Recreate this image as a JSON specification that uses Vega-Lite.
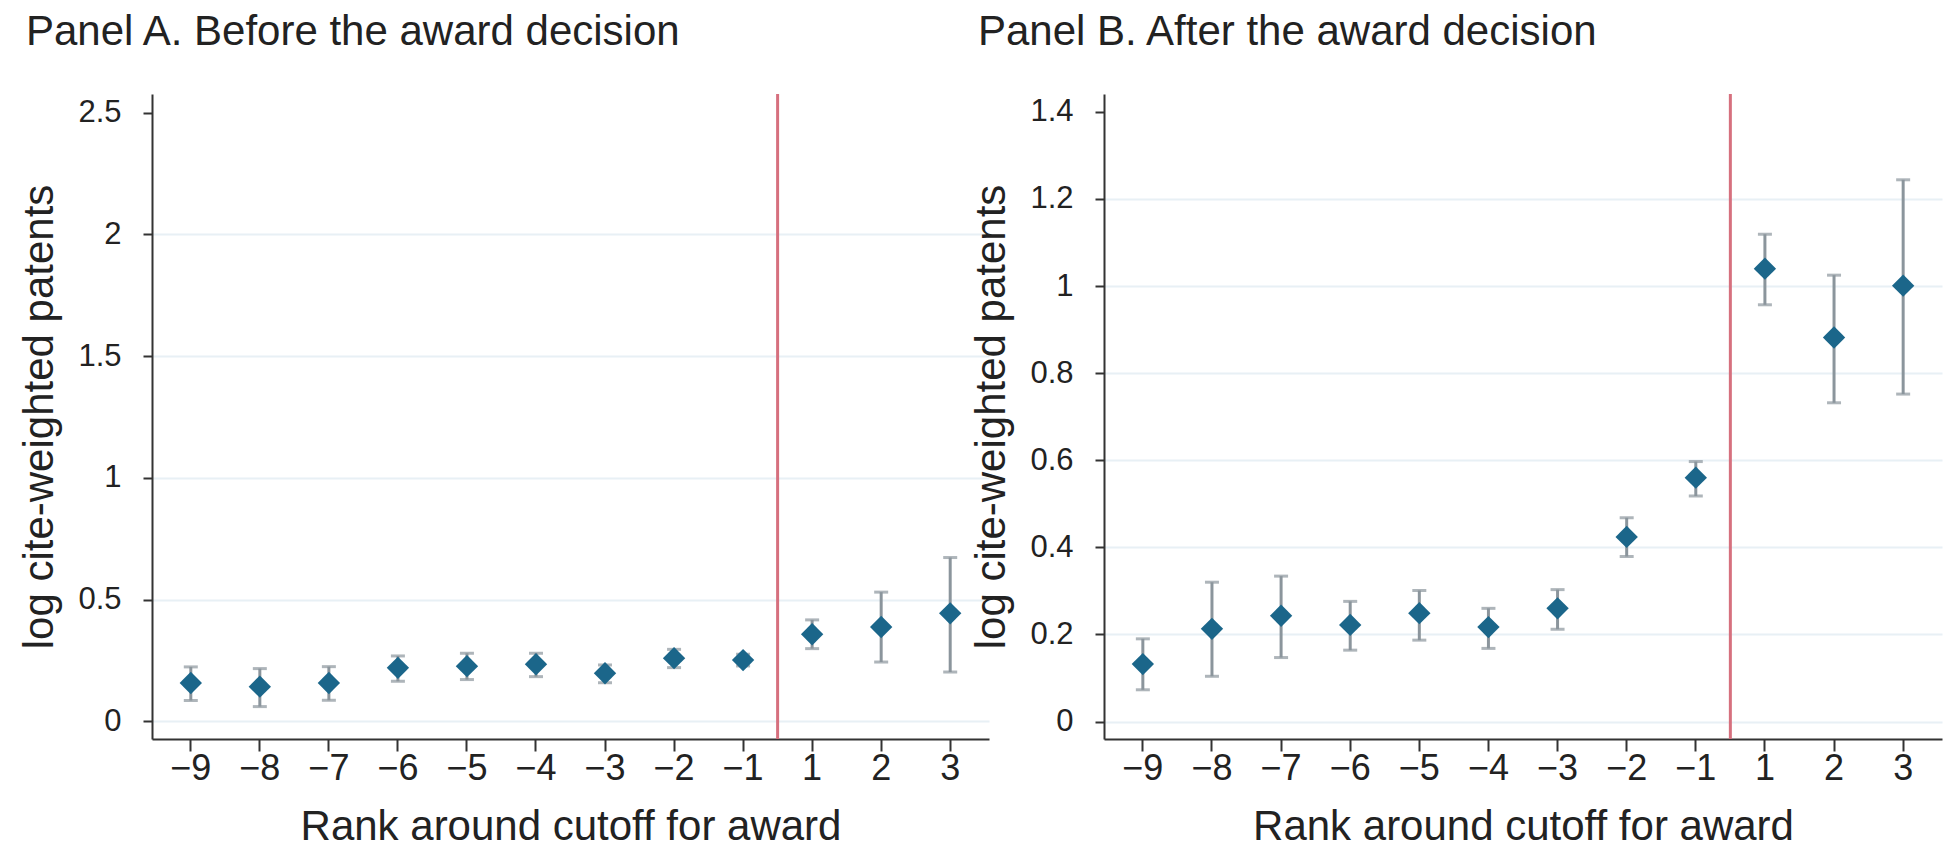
{
  "$schema": "https://vega.github.io/schema/vega-lite/v6.json",
  "background": "white",
  "padding": {"left": 18, "top": 10, "right": 5, "bottom": 0},
  "bounds": "flush",
  "spacing": 115,
  "datasets": {
    "A": [
      {"rank": -9, "est": 0.158, "lo": 0.086, "hi": 0.224},
      {"rank": -8, "est": 0.143, "lo": 0.061, "hi": 0.217},
      {"rank": -7, "est": 0.158, "lo": 0.087, "hi": 0.225},
      {"rank": -6, "est": 0.220, "lo": 0.165, "hi": 0.269},
      {"rank": -5, "est": 0.227, "lo": 0.172, "hi": 0.280},
      {"rank": -4, "est": 0.235, "lo": 0.184, "hi": 0.280},
      {"rank": -3, "est": 0.198, "lo": 0.159, "hi": 0.232},
      {"rank": -2, "est": 0.260, "lo": 0.221, "hi": 0.296},
      {"rank": -1, "est": 0.252, "lo": 0.228, "hi": 0.276},
      {"rank": 1, "est": 0.358, "lo": 0.299, "hi": 0.417},
      {"rank": 2, "est": 0.388, "lo": 0.244, "hi": 0.531},
      {"rank": 3, "est": 0.444, "lo": 0.203, "hi": 0.673}
    ],
    "B": [
      {"rank": -9, "est": 0.132, "lo": 0.073, "hi": 0.190},
      {"rank": -8, "est": 0.213, "lo": 0.104, "hi": 0.320},
      {"rank": -7, "est": 0.243, "lo": 0.147, "hi": 0.334},
      {"rank": -6, "est": 0.222, "lo": 0.164, "hi": 0.276},
      {"rank": -5, "est": 0.249, "lo": 0.187, "hi": 0.301},
      {"rank": -4, "est": 0.217, "lo": 0.168, "hi": 0.260},
      {"rank": -3, "est": 0.260, "lo": 0.212, "hi": 0.303},
      {"rank": -2, "est": 0.424, "lo": 0.379, "hi": 0.468},
      {"rank": -1, "est": 0.560, "lo": 0.518, "hi": 0.597},
      {"rank": 1, "est": 1.040, "lo": 0.957, "hi": 1.119},
      {"rank": 2, "est": 0.882, "lo": 0.732, "hi": 1.025},
      {"rank": 3, "est": 1.001, "lo": 0.752, "hi": 1.244}
    ],
    "cut": [{"rank": 1}]
  },
  "config": {
    "view": {"stroke": null},
    "font": "Liberation Sans",
    "axis": {
      "domainColor": "#333333", "domainWidth": 2,
      "tickColor": "#333333", "tickWidth": 2,
      "labelFont": "Liberation Sans", "labelColor": "#222222",
      "titleFont": "Liberation Sans", "titleFontSize": 42, "titleFontWeight": "normal", "titleColor": "#222222",
      "gridColor": "#e8f0f5", "gridWidth": 2
    },
    "axisX": {"tickSize": 12, "labelFontSize": 36, "labelPadding": 0, "titlePadding": 20, "grid": false, "labelAngle": 0},
    "axisY": {"tickSize": 9, "labelFontSize": 31, "labelPadding": 22, "titlePadding": 16},
    "title": {"font": "Liberation Sans", "fontSize": 42, "fontWeight": "normal", "color": "#222222", "anchor": "start", "frame": "bounds", "baseline": "alphabetic", "offset": 39, "dx": 7}
  },
  "hconcat": [
    {
      "width": 837, "height": 645,
      "title": {"text": "Panel A. Before the award decision"},
      "layer": [
        {
          "data": {"name": "cut"},
          "mark": {"type": "rule", "color": "#d6707e", "strokeWidth": 3},
          "encoding": {
            "x": {"field": "rank", "type": "ordinal", "bandPosition": 0,
                  "scale": {"type": "band", "domain": [-9,-8,-7,-6,-5,-4,-3,-2,-1,1,2,3], "paddingInner": 0, "paddingOuter": 0.062}}
          }
        },
        {
          "data": {"name": "A"},
          "mark": {"type": "errorbar", "orient": "vertical", "color": "#8b959c", "thickness": 3, "ticks": {"size": 14, "thickness": 3, "color": "#8b959c"}},
          "encoding": {
            "x": {"field": "rank", "type": "ordinal",
                  "scale": {"type": "band", "domain": [-9,-8,-7,-6,-5,-4,-3,-2,-1,1,2,3], "paddingInner": 0, "paddingOuter": 0.062},
                  "axis": {"title": "Rank around cutoff for award", "labelExpr": "replace(datum.label, '-', '\u2212')"}},
            "y": {"field": "lo", "type": "quantitative",
                  "scale": {"domain": [-0.072, 2.576], "nice": false, "zero": false},
                  "axis": {"title": "log cite-weighted patents", "values": [0, 0.5, 1, 1.5, 2, 2.5], "format": "~g",
                           "gridColor": {"condition": {"test": "datum.value > 2.4", "value": "transparent"}, "value": "#e8f0f5"}}},
            "y2": {"field": "hi"}
          }
        },
        {
          "data": {"name": "A"},
          "mark": {"type": "point", "shape": "diamond", "filled": true, "size": 500, "color": "#1b668a", "opacity": 1},
          "encoding": {
            "x": {"field": "rank", "type": "ordinal"},
            "y": {"field": "est", "type": "quantitative"}
          }
        }
      ]
    },
    {
      "width": 838, "height": 645,
      "title": {"text": "Panel B. After the award decision"},
      "layer": [
        {
          "data": {"name": "cut"},
          "mark": {"type": "rule", "color": "#d6707e", "strokeWidth": 3},
          "encoding": {
            "x": {"field": "rank", "type": "ordinal", "bandPosition": 0,
                  "scale": {"type": "band", "domain": [-9,-8,-7,-6,-5,-4,-3,-2,-1,1,2,3], "paddingInner": 0, "paddingOuter": 0.062}}
          }
        },
        {
          "data": {"name": "B"},
          "mark": {"type": "errorbar", "orient": "vertical", "color": "#8b959c", "thickness": 3, "ticks": {"size": 14, "thickness": 3, "color": "#8b959c"}},
          "encoding": {
            "x": {"field": "rank", "type": "ordinal",
                  "scale": {"type": "band", "domain": [-9,-8,-7,-6,-5,-4,-3,-2,-1,1,2,3], "paddingInner": 0, "paddingOuter": 0.062},
                  "axis": {"title": "Rank around cutoff for award", "labelExpr": "replace(datum.label, '-', '\u2212')"}},
            "y": {"field": "lo", "type": "quantitative",
                  "scale": {"domain": [-0.040, 1.441], "nice": false, "zero": false},
                  "axis": {"title": "log cite-weighted patents", "values": [0, 0.2, 0.4, 0.6, 0.8, 1, 1.2, 1.4], "format": "~g",
                           "gridColor": {"condition": {"test": "datum.value > 1.3", "value": "transparent"}, "value": "#e8f0f5"}}},
            "y2": {"field": "hi"}
          }
        },
        {
          "data": {"name": "B"},
          "mark": {"type": "point", "shape": "diamond", "filled": true, "size": 500, "color": "#1b668a", "opacity": 1},
          "encoding": {
            "x": {"field": "rank", "type": "ordinal"},
            "y": {"field": "est", "type": "quantitative"}
          }
        }
      ]
    }
  ]
}
